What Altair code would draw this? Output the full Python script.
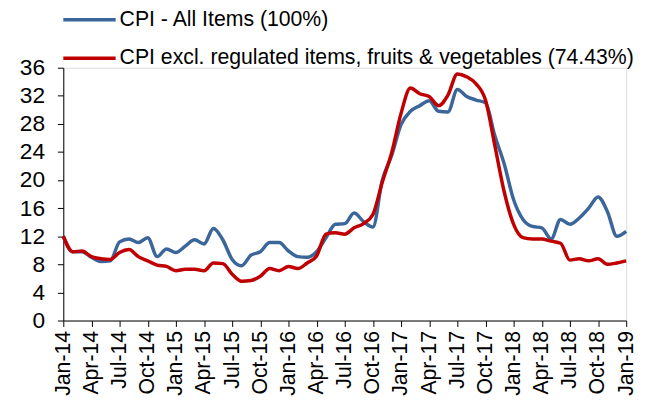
import altair as alt
import pandas as pd

month_names = ["Jan", "Feb", "Mar", "Apr", "May", "Jun",
               "Jul", "Aug", "Sep", "Oct", "Nov", "Dec"]
months = [f"{m}-{y}" for y in range(14, 19) for m in month_names] + ["Jan-19"]
tick_labels = months[::3]

series_names = ["CPI - All Items (100%)",
                "CPI excl. regulated items, fruits & vegetables (74.43%)"]

cpi_all = [12.0, 9.8, 9.8, 9.0, 8.4, 8.5, 11.2, 11.6, 11.1, 11.8, 9.1, 10.2,
           9.7, 10.6, 11.5, 10.9, 13.1, 11.5, 8.7, 7.8, 9.3, 9.8, 11.1, 11.1,
           9.9, 9.1, 9.0, 9.8, 11.8, 13.7, 13.8, 15.3, 14.1, 13.3, 20.0, 23.5,
           27.9, 29.8, 30.6, 31.3, 29.8, 29.7, 32.9, 31.9, 31.4, 31.0, 26.3, 22.3,
           17.2, 14.4, 13.4, 13.2, 11.6, 14.4, 13.7, 14.6, 16.0, 17.6, 15.5, 12.0,
           12.7]
cpi_core = [12.0, 9.8, 9.9, 9.1, 8.8, 8.7, 9.7, 10.1, 9.1, 8.5, 7.9, 7.7,
            7.1, 7.3, 7.3, 7.1, 8.2, 8.1, 6.6, 5.6, 5.7, 6.3, 7.4, 7.1,
            7.7, 7.4, 8.2, 9.2, 12.3, 12.5, 12.3, 13.2, 13.8, 15.1, 19.7, 23.9,
            29.5, 33.1, 32.3, 31.9, 30.6, 32.1, 35.1, 34.7, 33.7, 31.4, 24.9, 18.3,
            13.7, 11.8, 11.6, 11.6, 11.3, 11.0, 8.6, 8.8, 8.5, 8.8, 8.0, 8.2,
            8.5]

df = pd.DataFrame({
    "month": months * 2,
    "value": cpi_all + cpi_core,
    "series": [series_names[0]] * len(months) + [series_names[1]] * len(months),
})

font = "Liberation Sans"

chart = alt.Chart(df).mark_line(strokeWidth=3.5, interpolate="monotone").encode(
    x=alt.X("month:O", sort=months, title=None,
            scale=alt.Scale(type="point", padding=0),
            axis=alt.Axis(values=tick_labels, labelAngle=-90, labelFontSize=21.5,
                          labelFont=font, labelColor="black", domainColor="black",
                          tickColor="black", tickSize=6, labelPadding=4, grid=False)),
    y=alt.Y("value:Q", title=None,
            scale=alt.Scale(domain=[0, 36], nice=False),
            axis=alt.Axis(values=list(range(0, 37, 4)), labelFontSize=23,
                          labelFont=font, labelColor="black", domainColor="black",
                          tickColor="black", tickSize=6, labelPadding=13, grid=False)),
    color=alt.Color("series:N", sort=series_names,
                    scale=alt.Scale(domain=series_names, range=["#3A6699", "#C00000"]),
                    legend=alt.Legend(title=None, orient="none", legendX=-2, legendY=-77,
                                      symbolType="stroke", symbolSize=2809,
                                      symbolStrokeWidth=3.5, labelFontSize=21.5,
                                      labelFont=font, labelColor="black",
                                      labelOffset=2, rowPadding=-5, labelLimit=700)),
).properties(
    width=570, height=256,
    autosize=alt.AutoSizeParams(type="none"),
    padding={"left": 56, "top": 58, "right": 16, "bottom": 78},
).configure_view(stroke=None).configure(background="white")

chart.save("out.html", embed_options={"renderer": "svg", "actions": False})
